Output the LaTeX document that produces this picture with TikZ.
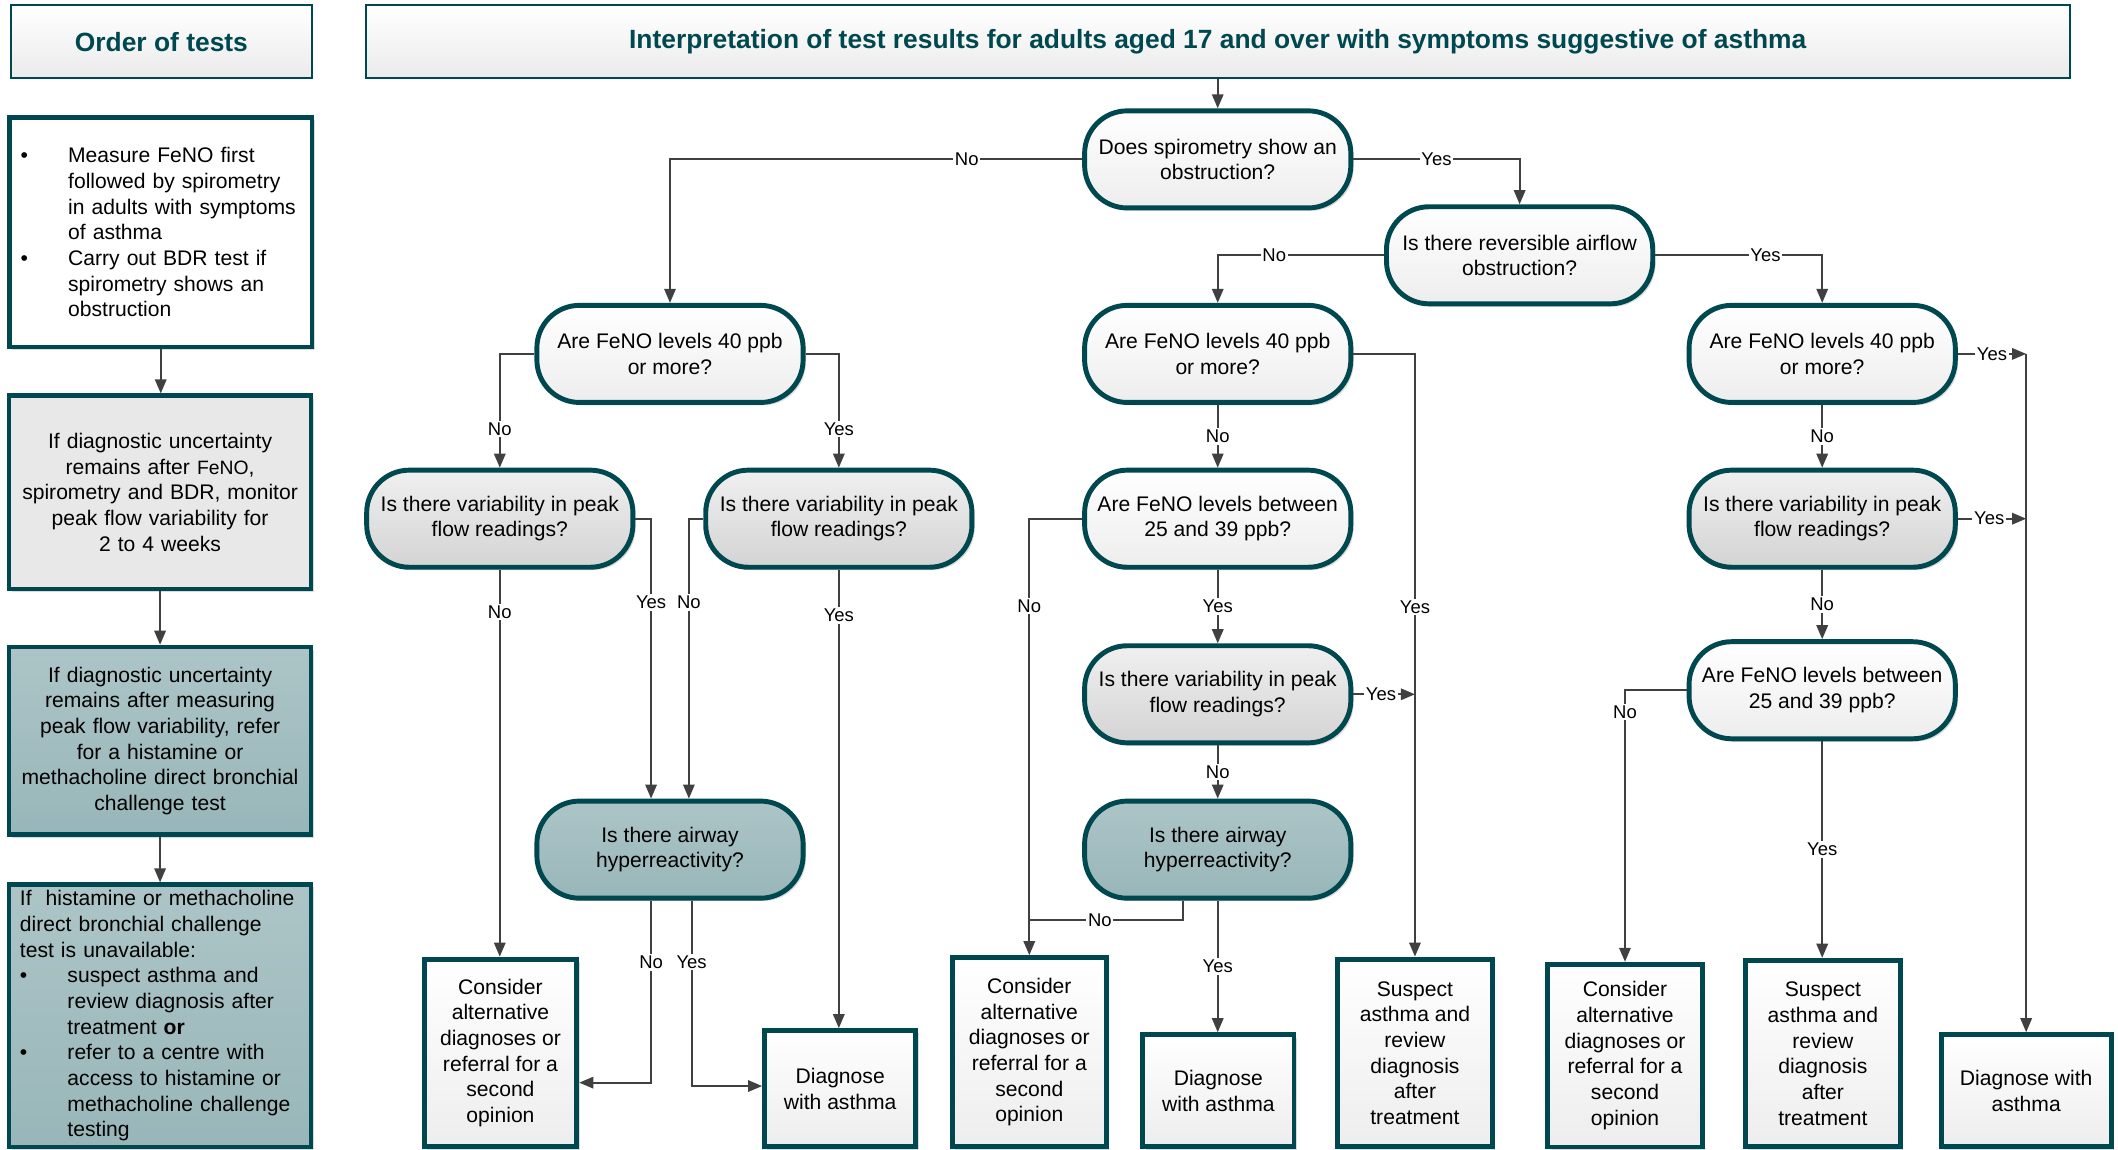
\documentclass[tikz,border=0pt]{standalone}
\usepackage{fontspec}
\setmainfont{Liberation Sans}
\usepackage{tikz}
\usetikzlibrary{calc,arrows.meta,shadows}

\definecolor{tealdark}{RGB}{0,72,80}
\definecolor{tealfill}{RGB}{152,182,185}
\definecolor{linegray}{RGB}{64,64,64}

\newlength{\bulw}
\setlength{\bulw}{0.95cm}
\newcommand{\bitem}{\makebox[\bulw][l]{\textbullet}}
\newcommand{\bind}{\hspace*{\bulw}}

\begin{document}
\begin{tikzpicture}[x=0.027cm,y=-0.027cm,
    txt/.style={font=\fontsize{12}{14.6}\selectfont},
    shadowed/.style={drop shadow={fill=black!14,opacity=1,shadow xshift=1.6pt,shadow yshift=-1.6pt}},
    head/.style={draw=tealdark,line width=1.1pt,top color=white,bottom color=black!8,
      text=tealdark,font=\fontsize{15}{18}\selectfont\bfseries,minimum height=1.46cm},
    ordbox/.style={txt,draw=tealdark,line width=2.6pt,shadowed,inner xsep=0.22cm,inner ysep=0pt,text width=5.6cm},
    ask/.style={txt,draw=tealdark,line width=2.8pt,shadowed,rounded corners=0.85cm,
      minimum width=5.32cm,minimum height=1.94cm,align=center,inner sep=1pt},
    askw/.style={ask,top color=white,bottom color=black!7},
    askg/.style={ask,top color=black!6,bottom color=black!17},
    askt/.style={ask,top color=tealfill!80!white,bottom color=tealfill},
    res/.style={txt,draw=tealdark,line width=2.8pt,shadowed,top color=white,bottom color=black!7,
      align=center,inner sep=1pt},
    conn/.style={draw=linegray,line width=1.1pt},
    arr/.style={conn,-{Triangle[length=8pt,width=6.5pt]}},
    lbl/.style={fill=white,inner sep=1pt,font=\fontsize{10.5}{12}\selectfont}]

\useasboundingbox (0,0) rectangle (1568,851);

% headers
\node[head,minimum width=6.02cm] (order) at (119.5,31) {Order of tests};
\node[head,minimum width=34.05cm] (title) at (901.5,31) {Interpretation of test results for adults aged 17 and over with symptoms suggestive of asthma};

% order of tests
\begin{scope}
    \node[ordbox,fill=white,minimum height=4.59cm,align=left] (b1) at (119,172)
        {\bitem Measure FeNO first\\ \bind followed by spirometry\\ \bind in adults with symptoms\\ \bind of asthma\\
         \bitem Carry out BDR test if\\ \bind spirometry shows an\\ \bind obstruction};
    \node[ordbox,fill=black!9,minimum height=3.86cm,align=center] (b2) at (118.5,364.5)
        {If diagnostic uncertainty\\ remains after {\fontsize{11}{14.6}\selectfont FeNO},\\ spirometry and BDR, monitor\\ peak flow variability for\\ 2 to 4 weeks};
    \node[ordbox,top color=tealfill!80!white,bottom color=tealfill,minimum height=3.75cm,align=center] (b3) at (118.5,548.5)
        {If diagnostic uncertainty\\ remains after measuring\\ peak flow variability, refer\\ for a histamine or\\ methacholine direct bronchial\\ challenge test};
    \node[ordbox,top color=tealfill!80!white,bottom color=tealfill,minimum height=5.24cm,align=left] (b4) at (118.5,752)
        {If\ \ histamine or methacholine\\ direct bronchial challenge\\ test is unavailable:\\
         \bitem suspect asthma and\\ \bind review diagnosis after\\ \bind treatment \textbf{or}\\
         \bitem refer to a centre with\\ \bind access to histamine or\\ \bind methacholine challenge\\ \bind testing};
\end{scope}
\draw[arr] (b1.south) -- (b1.south |- b2.north);
\draw[arr] (b2.south) -- (b2.south |- b3.north);
\draw[arr] (b3.south) -- (b3.south |- b4.north);

% questions
\node[askw] (Q1) at (901.5,118) {Does spirometry show an\\obstruction?};
\node[askw] (Q2) at (1125,189) {Is there reversible airflow\\obstruction?};
\node[askw] (F1) at (496,262) {Are FeNO levels 40 ppb\\or more?};
\node[askw] (F2) at (901.5,262) {Are FeNO levels 40 ppb\\or more?};
\node[askw] (F3) at (1349,262) {Are FeNO levels 40 ppb\\or more?};
\node[askg] (V1) at (370,384) {Is there variability in peak\\flow readings?};
\node[askg] (V2) at (621,384) {Is there variability in peak\\flow readings?};
\node[askw] (B2) at (901.5,384) {Are FeNO levels between\\25 and 39 ppb?};
\node[askg] (V4) at (1349,384) {Is there variability in peak\\flow readings?};
\node[askg] (V3) at (901.5,514) {Is there variability in peak\\flow readings?};
\node[askw] (B3) at (1349,511) {Are FeNO levels between\\25 and 39 ppb?};
\node[askt] (H1) at (496,629) {Is there airway\\hyperreactivity?};
\node[askt] (H2) at (901.5,629) {Is there airway\\hyperreactivity?};

% outcomes
\node[res,minimum width=3.05cm,minimum height=3.75cm] (R1) at (370.5,779.5) {Consider\\alternative\\diagnoses or\\referral for a\\second\\opinion};
\node[res,minimum width=3.02cm,minimum height=2.32cm] (R2) at (622,806) {Diagnose\\with asthma};
\node[res,minimum width=3.08cm,minimum height=3.78cm] (R3) at (762,779) {Consider\\alternative\\diagnoses or\\referral for a\\second\\opinion};
\node[res,minimum width=3.02cm,minimum height=2.24cm] (R4) at (902,807.5) {Diagnose\\with asthma};
\node[res,minimum width=3.1cm,minimum height=3.75cm] (R5) at (1047.5,779.5) {Suspect\\asthma and\\review\\diagnosis\\after\\treatment};
\node[res,minimum width=3.08cm,minimum height=3.65cm] (R6) at (1203,781.5) {Consider\\alternative\\diagnoses or\\referral for a\\second\\opinion};
\node[res,minimum width=3.1cm,minimum height=3.73cm] (R7) at (1349.5,780) {Suspect\\asthma and\\review\\diagnosis\\after\\treatment};
\node[res,minimum width=3.4cm,minimum height=2.24cm] (R8) at (1500,807.5) {Diagnose with\\asthma};

% connectors
\draw[arr] (title) -- (Q1);
\draw[arr] (Q1.west) -| node[lbl,pos=0.14] {No} (F1.north);
\draw[arr] (Q1.east) -| node[lbl,pos=0.25] {Yes} (Q2.north);
\draw[arr] (Q2.west) -| node[lbl,pos=0.33] {No} (F2.north);
\draw[arr] (Q2.east) -| node[lbl,pos=0.33] {Yes} (F3.north);

\draw[arr] (F1.west) -| node[lbl,pos=0.83] {No} (V1.north);
\draw[arr] (F1.east) -| node[lbl,pos=0.83] {Yes} (V2.north);
\draw[arr] (V1.south) -- node[lbl,pos=0.11] {No} (V1.south |- R1.north);
\draw[arr] (V1.east) -| node[lbl,pos=0.65] {Yes} ($(H1.north)+(-14,0)$);
\draw[arr] (V2.west) -| node[lbl,pos=0.65] {No} ($(H1.north)+(14,0)$);
\draw[arr] (V2.south) -- node[lbl,pos=0.1] {Yes} (V2.south |- R2.north);
\draw[arr] ($(H1.south)+(-14,0)$) |- node[lbl,pos=0.17] {No} ($(R1.east)+(0,22)$);
\draw[arr] ($(H1.south)+(16,0)$) |- node[lbl,pos=0.165] {Yes} ($(R2.west)+(0,-2)$);

\draw[arr] (F2.south) -- node[lbl] {No} (B2.north);
\draw[arr] (F2.east) -| node[lbl,pos=0.71] {Yes} (R5.north);
\draw[arr] (B2.south) -- node[lbl] {Yes} (V3.north);
\draw[arr] (B2.west) -| node[lbl,pos=0.6] {No} (R3.north);
\draw[arr] (V3.east) -- node[lbl,pos=0.45] {Yes} (V3.east -| R5.north);
\draw[arr] (V3.south) -- node[lbl] {No} (H2.north);
\draw[conn] ($(H2.south)+(-26,0)$) |- node[lbl,pos=0.77] {No} ($(R3.north)+(0,-26)$);
\draw[arr] (H2.south) -- node[lbl] {Yes} (H2.south |- R4.north);

\draw[arr] (F3.south) -- node[lbl] {No} (V4.north);
\coordinate (jr) at (F3.east -| R8.north);
\draw[arr] (F3.east) -- node[lbl] {Yes} (jr);
\draw[arr] (jr) -- (R8.north);
\draw[arr] (V4.east) -- node[lbl,pos=0.46] {Yes} (V4.east -| R8.north);
\draw[arr] (V4.south) -- node[lbl] {No} (B3.north);
\draw[arr] (B3.west) -| node[lbl,pos=0.54] {No} (R6.north);
\draw[arr] (B3.south) -- node[lbl] {Yes} (B3.south |- R7.north);
\end{tikzpicture}
\end{document}
